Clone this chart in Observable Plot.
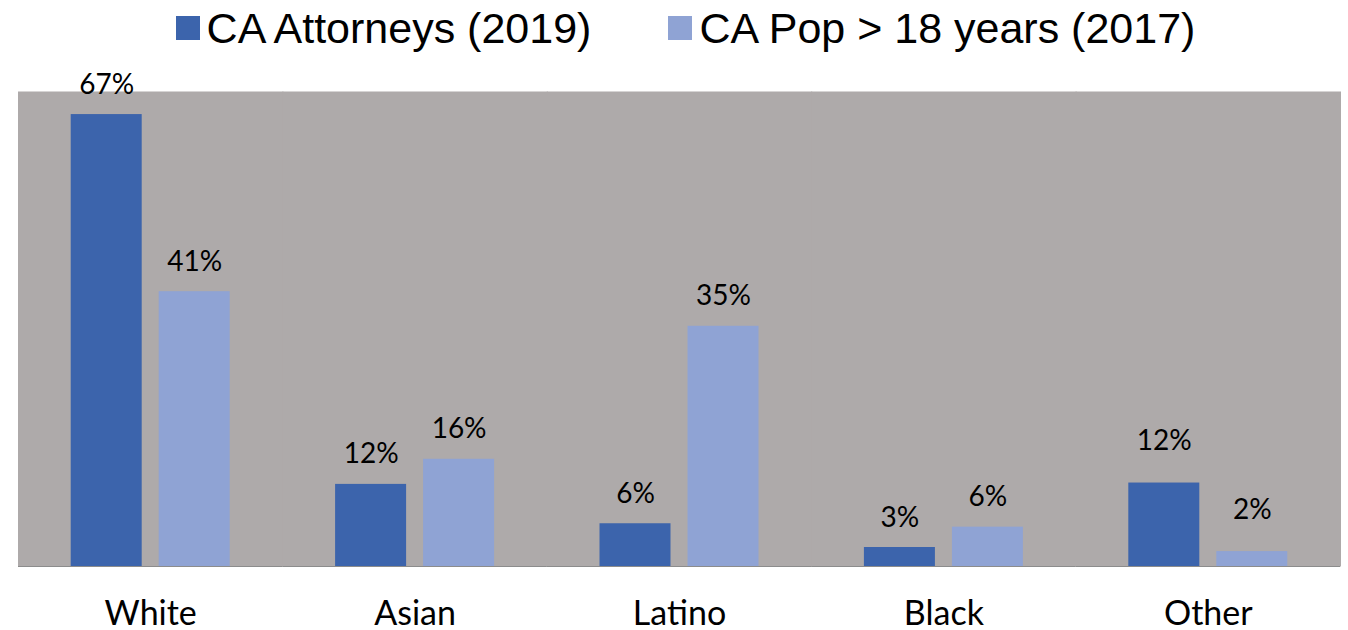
<!DOCTYPE html>
<html><head><meta charset="utf-8">
<script src="https://cdn.jsdelivr.net/npm/d3@7"></script>
<script src="https://cdn.jsdelivr.net/npm/@observablehq/plot@0.6"></script>
<style>
body{margin:0;background:#fff;width:1348px;height:630px;overflow:hidden}
#legend{height:56px;display:flex;justify-content:center;align-items:center;font-family:"Liberation Sans",Arial,sans-serif;font-size:43px;color:#000;padding-left:23px;box-sizing:border-box;white-space:nowrap}
.item{display:flex;align-items:center;margin:0 38.5px}
.sw{width:24px;height:24px;margin-right:7px}
#chart svg{display:block}
</style></head><body>
<div id="legend"></div>
<div id="chart"></div>
<script>
const categories = ["White", "Asian", "Latino", "Black", "Other"];
const seriesNames = ["CA Attorneys (2019)", "CA Pop > 18 years (2017)"];
const attorneys = [66.6, 12.1, 6.3, 2.8, 12.3];
const population = [40.5, 15.8, 35.4, 5.8, 2.2];
const colors = ["#3C64AC", "#8FA3D4"];

const legend = document.getElementById("legend");
seriesNames.forEach((s, i) => {
  const item = document.createElement("div");
  item.className = "item";
  const sw = document.createElement("span");
  sw.className = "sw";
  sw.style.background = colors[i];
  const t = document.createElement("span");
  t.textContent = s;
  item.appendChild(sw);
  item.appendChild(t);
  legend.appendChild(item);
});

const data = categories.flatMap((c, i) => [
  {category: c, series: seriesNames[0], value: attorneys[i]},
  {category: c, series: seriesNames[1], value: population[i]}
]);
const fmt = d => Math.round(d.value) + "%";
const textOpts = {fx: "category", x: "series", y: "value", text: fmt, lineAnchor: "bottom", fontSize: 28, fill: "#000"};

const plot = Plot.plot({
  width: 1348,
  height: 574,
  marginLeft: 18,
  marginRight: 8,
  marginTop: 35,
  marginBottom: 64,
  fx: {domain: categories, padding: 0, round: false, label: null, axis: "bottom", tickSize: 0, tickPadding: 34},
  x: {domain: seriesNames, paddingInner: 17 / 88, paddingOuter: 0.599, round: false, axis: null},
  y: {domain: [0, 70], axis: null},
  color: {domain: seriesNames, range: colors},
  style: {fontFamily: "Lato, 'Open Sans', sans-serif", fontSize: "34px", color: "#000", background: "transparent", overflow: "visible"},
  marks: [
    Plot.frame({fill: "#AEAAAA", stroke: null, insetLeft: -0.5, insetRight: -0.5}),
    Plot.barY(data, {fx: "category", x: "series", y: "value", fill: "series"}),
    Plot.ruleY([0], {stroke: "#8C8C8C", strokeWidth: 1.2}),
    Plot.text(data.filter(d => d.category !== "Other"), {...textOpts, dy: -21}),
    Plot.text(data.filter(d => d.category === "Other"), {...textOpts, dy: -33})
  ]
});
document.getElementById("chart").appendChild(plot);
</script>
</body></html>
